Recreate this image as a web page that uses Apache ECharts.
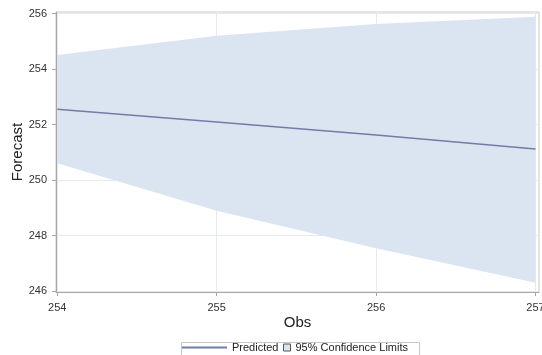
<!DOCTYPE html>
<html>
<head>
<meta charset="utf-8">
<script src="https://cdn.jsdelivr.net/npm/echarts@6/dist/echarts.min.js"></script>
<style>
  html, body { margin: 0; padding: 0; background: #fff; }
  #chart { width: 542px; height: 355px; }
</style>
</head>
<body>
<div id="chart"></div>
<script>
// Forecast observations and their 95% confidence band
const obs = [254, 255, 256, 257];
const predicted = [252.55, 252.09, 251.62, 251.12];
const lowerLimit = [250.60, 248.89, 247.54, 246.30];
const upperLimit = [254.50, 255.20, 255.62, 255.88];

// Axis tick values
const xTicks = [254, 255, 256, 257];
const yTicks = [246, 248, 250, 252, 254, 256];

const bandColor = '#dae5f1';
const lineColor = '#6e7ea6';
const font = 'Liberation Sans, Arial, sans-serif';

const chart = echarts.init(document.getElementById('chart'), null, { renderer: 'canvas' });

const bandData = obs.map((x, i) => [x, lowerLimit[i], upperLimit[i]]);
const predData = obs.map((x, i) => [x, predicted[i]]);

// Confidence band: one closed polygon, upper limit forward then lower limit back
function renderBand(params, api) {
  if (params.dataIndex !== 0) return null;
  const upper = bandData.map(d => api.coord([d[0], d[2]]));
  const lower = bandData.map(d => api.coord([d[0], d[1]])).reverse();
  return {
    type: 'polygon',
    shape: { points: upper.concat(lower) },
    style: { fill: bandColor, stroke: null },
    silent: true
  };
}

chart.setOption({
  animation: false,
  backgroundColor: '#ffffff',
  grid: {
    left: 56, top: 12, right: 3, bottom: 63,
    outerBoundsMode: 'none',
    containLabel: false,
    show: true, borderColor: '#c9c9c9', borderWidth: 1
  },
  xAxis: {
    type: 'value',
    min: 253.992,
    max: 257.022,
    name: 'Obs',
    nameLocation: 'middle',
    nameGap: 23,
    nameMoveOverlap: false,
    nameTextStyle: { fontFamily: font, fontSize: 15, color: '#222' },
    axisLine: { show: true, lineStyle: { color: '#a6a6a6' } },
    axisTick: { show: true, length: 4, customValues: xTicks, lineStyle: { color: '#a6a6a6' } },
    axisLabel: { customValues: xTicks, margin: 10, fontFamily: font, fontSize: 11, color: '#333' },
    splitLine: { show: true, lineStyle: { color: '#e6e9ee' } }
  },
  yAxis: {
    type: 'value',
    min: 245.964,
    max: 256.054,
    name: 'Forecast',
    nameLocation: 'middle',
    nameGap: 31,
    nameMoveOverlap: false,
    nameTextStyle: { fontFamily: font, fontSize: 15, color: '#222' },
    axisLine: { show: true, lineStyle: { color: '#a6a6a6' } },
    axisTick: { show: true, length: 4, customValues: yTicks, lineStyle: { color: '#a6a6a6' } },
    axisLabel: { customValues: yTicks, margin: 9, fontFamily: font, fontSize: 11, color: '#333' },
    splitLine: { show: true, lineStyle: { color: '#e6e9ee' } }
  },
  legend: [
    {
      left: 182, top: 342,
      itemWidth: 45, itemHeight: 2, itemGap: 4,
      icon: 'rect',
      padding: 0,
      textStyle: { fontFamily: font, fontSize: 11, color: '#222' },
      data: [{ name: 'Predicted', itemStyle: { color: lineColor } }]
    },
    {
      left: 283, top: 342,
      itemWidth: 7, itemHeight: 7,
      icon: 'rect',
      padding: 0,
      textStyle: { fontFamily: font, fontSize: 11, color: '#222' },
      data: [{ name: '95% Confidence Limits', itemStyle: { color: bandColor, borderColor: '#555', borderWidth: 1 } }]
    }
  ],
  graphic: [
    {
      type: 'rect',
      left: 179, top: 340,
      shape: { width: 238, height: 20 },
      style: { fill: 'none', stroke: '#c6c6c6', lineWidth: 1 },
      silent: true
    }
  ],
  series: [
    {
      name: '95% Confidence Limits',
      type: 'custom',
      data: bandData,
      encode: { x: 0, y: [1, 2] },
      renderItem: renderBand,
      itemStyle: { color: bandColor },
      clip: true,
      z: 1
    },
    {
      name: 'Predicted',
      type: 'line',
      data: predData,
      symbol: 'none',
      lineStyle: { color: lineColor, width: 1.5 },
      itemStyle: { color: lineColor },
      z: 3
    }
  ]
});
</script>
</body>
</html>
